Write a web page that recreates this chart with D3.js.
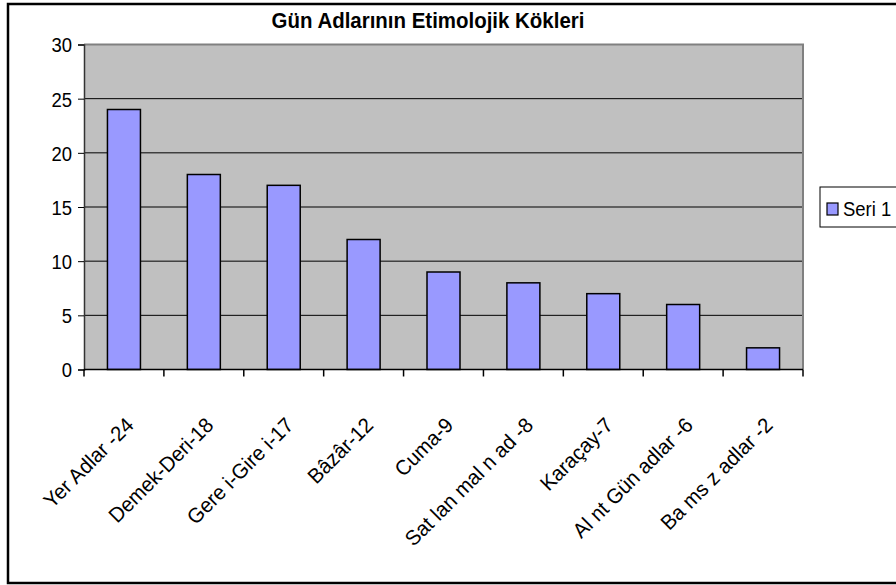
<!DOCTYPE html>
<html>
<head>
<meta charset="utf-8">
<title>Gün Adlarının Etimolojik Kökleri</title>
<script src="https://cdn.jsdelivr.net/npm/d3@7"></script>
<style>
  body { margin: 0; background: #fff; }
  text { font-family: "Liberation Sans", Arial, sans-serif; fill: #000; }
</style>
</head>
<body>
<script>
var categories = ["Yer Adlar -24", "Demek-Deri-18", "Gere i-Gire i-17", "Bâzâr-12", "Cuma-9",
                  "Sat lan mal n ad -8", "Karaçay-7", "Al nt Gün adlar -6", "Ba ms z adlar -2"];
var values = [24, 18, 17, 12, 9, 8, 7, 6, 2];
var yTicks = [0, 5, 10, 15, 20, 25, 30];
var seriesName = "Seri 1";
var title = "Gün Adlarının Etimolojik Kökleri";

var W = 896, H = 585;
var plotL = 84, plotR = 803, plotT = 44.5, plotB = 369.5;

var svg = d3.select("body").append("svg")
  .attr("width", W).attr("height", H);

// outer frame
svg.append("rect")
  .attr("x", 8).attr("y", 4).attr("width", 920).attr("height", 579)
  .attr("fill", "#fff").attr("stroke", "#000").attr("stroke-width", 2.5);

var y = d3.scaleLinear().domain([0, 30]).range([plotB, plotT]);
var x = d3.scaleBand().domain(categories).range([plotL, plotR])
  .paddingInner(0.587).paddingOuter(0.2935);
var step = x.step();

// plot area
svg.append("rect")
  .attr("x", plotL).attr("y", plotT).attr("width", plotR - plotL).attr("height", plotB - plotT)
  .attr("fill", "#c0c0c0");

// grid
svg.selectAll("line.grid").data(yTicks.filter(function(d){ return d > 0 && d < 30; }))
  .enter().append("line")
  .attr("class", "grid")
  .attr("x1", plotL).attr("x2", plotR)
  .attr("y1", function(d){ return y(d); }).attr("y2", function(d){ return y(d); })
  .attr("stroke", "#000").attr("stroke-width", 1);

// border top/right
svg.append("path")
  .attr("d", "M" + plotL + "," + plotT + "H" + plotR + "V" + plotB)
  .attr("fill", "none").attr("stroke", "#808080").attr("stroke-width", 2);

// bars
svg.selectAll("rect.bar").data(values).enter().append("rect")
  .attr("class", "bar")
  .attr("x", function(d, i){ return x(categories[i]); })
  .attr("y", function(d){ return y(d); })
  .attr("width", x.bandwidth())
  .attr("height", function(d){ return plotB - y(d); })
  .attr("fill", "#9999ff").attr("stroke", "#000").attr("stroke-width", 1.5);

// y axis
var yAxis = svg.append("g")
  .attr("transform", "translate(" + plotL + ",0)")
  .call(d3.axisLeft(y).tickValues(yTicks).tickSize(6).tickPadding(6));
yAxis.select(".domain").attr("stroke", "#333").attr("stroke-width", 1.5);
yAxis.selectAll(".tick line").attr("stroke", "#000");
yAxis.selectAll(".tick text")
  .attr("font-size", 21)
  .attr("font-family", "Liberation Sans, Arial, sans-serif")
  .attr("dy", "0.35em")
  .attr("transform", "scale(0.88,1)")
  .attr("x", -12 / 0.88);

// x axis
svg.append("line")
  .attr("x1", plotL).attr("x2", plotR).attr("y1", plotB).attr("y2", plotB)
  .attr("stroke", "#000").attr("stroke-width", 1.5);
svg.selectAll("line.xtick").data(d3.range(categories.length + 1)).enter().append("line")
  .attr("class", "xtick")
  .attr("x1", function(i){ return plotL + i * step; })
  .attr("x2", function(i){ return plotL + i * step; })
  .attr("y1", plotB).attr("y2", plotB + 7)
  .attr("stroke", "#000").attr("stroke-width", 1.5);

// category labels
svg.selectAll("text.cat").data(categories).enter().append("text")
  .attr("class", "cat")
  .attr("text-anchor", "end")
  .attr("font-size", 21)
  .attr("transform", function(d){
    var cx = x(d) + x.bandwidth() / 2 + 11;
    return "translate(" + cx + "," + (plotB + 57) + ") rotate(-45) scale(0.97,1)";
  })
  .text(function(d){ return d; });

// title
svg.append("text")
  .attr("text-anchor", "middle")
  .attr("font-size", 22).attr("font-weight", "bold")
  .attr("transform", "translate(428,28) scale(0.93,1)")
  .text(title);

// legend
var lg = svg.append("g");
lg.append("rect")
  .attr("x", 820).attr("y", 187).attr("width", 100).attr("height", 40)
  .attr("fill", "#fff").attr("stroke", "#000").attr("stroke-width", 1);
lg.append("rect")
  .attr("x", 827).attr("y", 203).attr("width", 11).attr("height", 12)
  .attr("fill", "#9999ff").attr("stroke", "#000").attr("stroke-width", 1.2);
lg.append("text")
  .attr("font-size", 21)
  .attr("transform", "translate(843,216) scale(0.88,1)")
  .text(seriesName);
</script>
</body>
</html>
